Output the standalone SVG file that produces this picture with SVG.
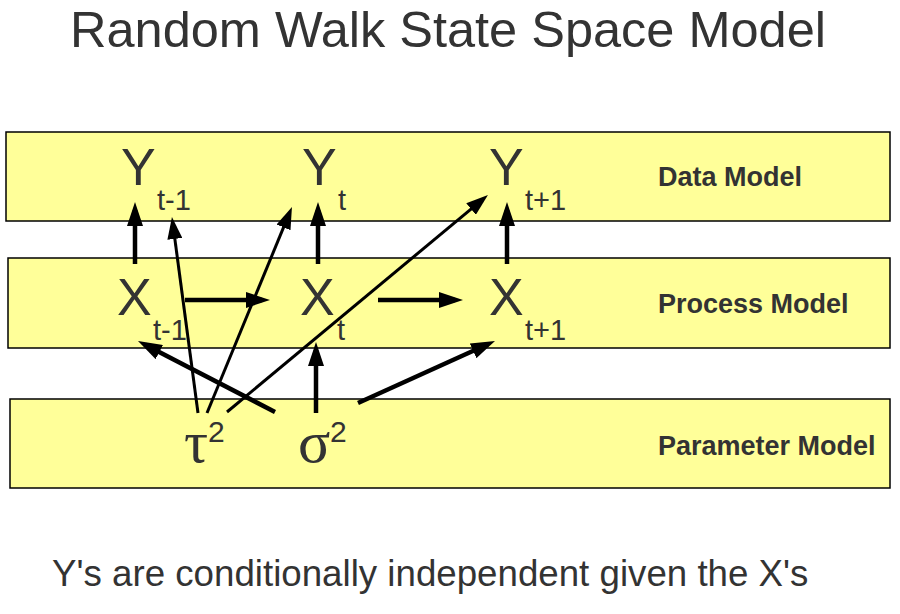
<svg xmlns="http://www.w3.org/2000/svg" width="900" height="614" viewBox="0 0 900 614">
<style>
.band{fill:#ffff99;stroke:#000;stroke-width:1.5}
.var{font-family:"Liberation Sans",Arial,sans-serif;font-size:52px;fill:#333}
.sub{font-family:"Liberation Sans",Arial,sans-serif;font-size:29px;fill:#333}
.greek{font-family:"Liberation Serif","Times New Roman",serif;font-size:60px;fill:#333}
.sup{font-family:"Liberation Sans",Arial,sans-serif;font-size:30px;fill:#333}
.lbl{font-family:"Liberation Sans",Arial,sans-serif;font-size:27px;font-weight:bold;fill:#333}
.title{font-family:"Liberation Sans",Arial,sans-serif;font-size:50.5px;fill:#333}
.note{font-family:"Liberation Sans",Arial,sans-serif;font-size:36.7px;fill:#333}
.thick{stroke:#000;stroke-width:4.5;fill:none;marker-end:url(#ah)}
.thin{stroke:#000;stroke-width:3;fill:none;marker-end:url(#ahs)}
</style>
<defs>
<marker id="ah" viewBox="0 0 24 16" markerWidth="24" markerHeight="16" refX="16" refY="8" orient="auto" markerUnits="userSpaceOnUse"><path d="M0,0 L24,8 L0,16 z" fill="#000"/></marker>
<marker id="ahs" viewBox="0 0 22 15" markerWidth="22" markerHeight="15" refX="14" refY="7.5" orient="auto" markerUnits="userSpaceOnUse"><path d="M0,0 L22,7.5 L0,15 z" fill="#000"/></marker>
</defs>
<rect width="900" height="614" fill="#fff"/>
<text class="title" x="448" y="47" text-anchor="middle">Random Walk State Space Model</text>
<g id="data-model">
<rect class="band" x="6" y="132" width="884" height="89"/>
<text class="lbl" x="658" y="186">Data Model</text>
</g>
<g id="process-model">
<rect class="band" x="8" y="258" width="882" height="90"/>
<text class="lbl" x="658" y="313">Process Model</text>
</g>
<g id="parameter-model">
<rect class="band" x="10" y="399" width="880" height="89"/>
<text class="lbl" x="658" y="455">Parameter Model</text>
</g>
<g id="Y_t-1"><text class="var" x="121" y="185">Y</text><text class="sub" x="157" y="210">t-1</text></g>
<g id="Y_t"><text class="var" x="302" y="185">Y</text><text class="sub" x="338" y="210">t</text></g>
<g id="Y_t+1"><text class="var" x="489" y="185">Y</text><text class="sub" x="525" y="210">t+1</text></g>
<g id="X_t-1"><text class="var" x="117" y="315">X</text><text class="sub" x="153" y="340">t-1</text></g>
<g id="X_t"><text class="var" x="300" y="315">X</text><text class="sub" x="337" y="340">t</text></g>
<g id="X_t+1"><text class="var" x="489" y="315">X</text><text class="sub" x="525" y="340">t+1</text></g>
<g id="tau2"><text class="greek" x="184" y="462">τ</text><text class="sup" x="208" y="442">2</text></g>
<g id="sigma2"><text class="greek" x="298" y="462">σ</text><text class="sup" x="330" y="442">2</text></g>
<g id="connectors">
<line class="thick" x1="135" y1="264" x2="135" y2="210"/>
<line class="thick" x1="318" y1="264" x2="318" y2="210"/>
<line class="thick" x1="507" y1="264" x2="507" y2="210"/>
<line class="thick" x1="185" y1="300" x2="262" y2="300"/>
<line class="thick" x1="378" y1="300" x2="455" y2="300"/>
<line class="thin" x1="198" y1="413" x2="173" y2="225"/>
<line class="thin" x1="207" y1="413" x2="288.9" y2="214.4"/>
<line class="thin" x1="227" y1="412" x2="481.8" y2="200.1"/>
<line class="thick" x1="275" y1="412" x2="145.1" y2="344.7"/>
<line class="thick" x1="316" y1="413" x2="316" y2="350"/>
<line class="thick" x1="358" y1="403" x2="487.7" y2="344.3"/>
</g>
<text class="note" x="52" y="586">Y's are conditionally independent given the X's</text>
</svg>
